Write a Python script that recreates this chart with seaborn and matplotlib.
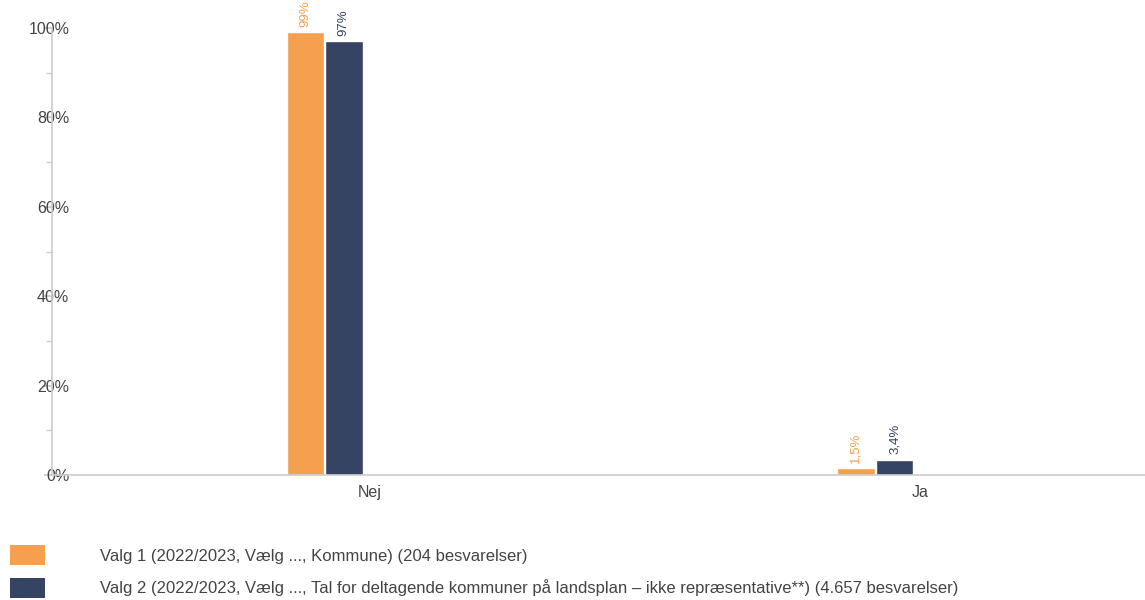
import matplotlib
matplotlib.use("Agg")
import matplotlib.pyplot as plt
from matplotlib.patches import Patch
from matplotlib.ticker import MultipleLocator, FuncFormatter
import seaborn as sns
import pandas as pd

# Answers and shares (%) per selection
categories = ["Nej", "Ja"]
series_names = [
    "Valg 1 (2022/2023, Vælg ..., Kommune) (204 besvarelser)",
    "Valg 2 (2022/2023, Vælg ..., Tal for deltagende kommuner på landsplan – ikke repræsentative**) (4.657 besvarelser)",
]
valg1 = [99, 1.5]
valg2 = [97, 3.4]
colors = ["#F5A04E", "#344462"]

df = pd.DataFrame({
    "svar": categories * 2,
    "serie": [series_names[0]] * len(categories) + [series_names[1]] * len(categories),
    "andel": valg1 + valg2,
})

sns.set_theme(style="white")
plt.rcParams["font.family"] = ["Liberation Sans", "DejaVu Sans"]
text_color = "#444444"
axis_color = "#cccccc"

fig = plt.figure(figsize=(11.45, 6.0), dpi=100)
ax = fig.add_axes([52 / 1145, 1 - 475 / 600, 1 - 52 / 1145, (475 - 28) / 600])

sns.barplot(data=df, x="svar", y="andel", hue="serie", palette=colors,
            width=0.14, gap=0.03, order=categories, hue_order=series_names,
            legend=False, ax=ax, saturation=1)

def fmt(v):
    s = f"{v:g}".replace(".", ",")
    return s + "%"

for cont, col in zip(ax.containers, colors):
    ax.bar_label(cont, labels=[fmt(v) for v in cont.datavalues], rotation=90,
                 padding=4, color=col, fontsize=9.5)

ax.set_ylim(0, 100)
ax.set_xlim(-0.495, 1.49)
ax.yaxis.set_major_locator(MultipleLocator(20))
ax.yaxis.set_minor_locator(MultipleLocator(10))
ax.yaxis.set_major_formatter(FuncFormatter(lambda v, p: f"{v:.0f}%"))
ax.tick_params(axis="y", which="major", length=6, color=axis_color, pad=-18.5,
               labelsize=11.5, labelcolor=text_color, left=True)
ax.tick_params(axis="y", which="minor", length=4, color=axis_color, left=True)
ax.set_xticks([0.082, 1.082], categories)
ax.tick_params(axis="x", length=0, pad=7, labelsize=11.5, labelcolor=text_color)
ax.set_xlabel("")
ax.set_ylabel("")

for side in ["top", "right"]:
    ax.spines[side].set_visible(False)
for side in ["left", "bottom"]:
    ax.spines[side].set_color(axis_color)
    ax.spines[side].set_linewidth(1.2)

handles = [Patch(facecolor=c, edgecolor="none") for c in colors]
fig.legend(handles, series_names, loc="upper left",
           bbox_to_anchor=(10 / 1145, 1 - 545 / 600), frameon=False,
           fontsize=12, labelcolor=text_color, handlelength=2.1,
           handleheight=1.5, handletextpad=3.3, labelspacing=0.75,
           borderaxespad=0, borderpad=0)

fig.savefig("out.png", dpi=100)
